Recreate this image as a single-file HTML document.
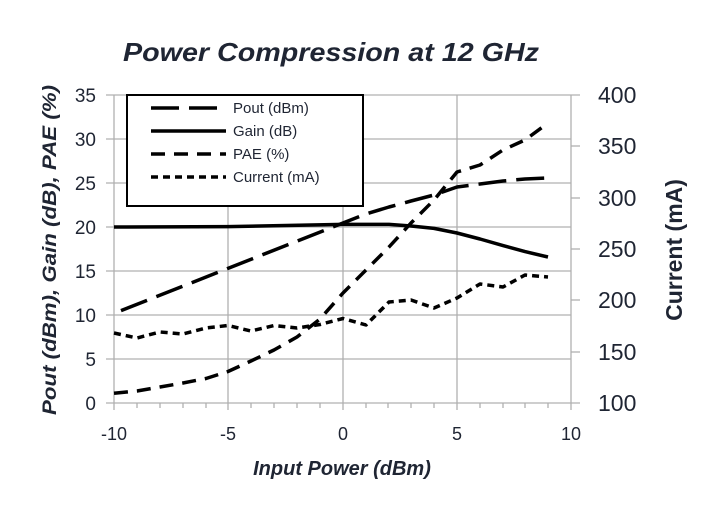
<!DOCTYPE html>
<html><head><meta charset="utf-8"><style>
html,body{margin:0;padding:0;background:#fff;}
svg{display:block;font-family:"Liberation Sans",sans-serif;}
</style></head><body>
<svg width="702" height="521" viewBox="0 0 702 521" xmlns="http://www.w3.org/2000/svg">
<rect width="702" height="521" fill="#fff"/>
<text x="331" y="61" text-anchor="middle" font-size="26" font-weight="bold" font-style="italic" fill="#1f2533" textLength="416" lengthAdjust="spacingAndGlyphs">Power Compression at 12 GHz</text>
<g stroke="#b0b0b0" stroke-width="1.3" fill="none">
<line x1="114" y1="95" x2="580" y2="95"/>
<line x1="114" y1="139" x2="571" y2="139"/>
<line x1="114" y1="183" x2="571" y2="183"/>
<line x1="114" y1="227" x2="571" y2="227"/>
<line x1="114" y1="271" x2="571" y2="271"/>
<line x1="114" y1="315" x2="571" y2="315"/>
<line x1="114" y1="359" x2="571" y2="359"/>
<line x1="106" y1="403" x2="580" y2="403"/>
<line x1="114" y1="95" x2="114" y2="410"/>
<line x1="228" y1="95" x2="228" y2="410"/>
<line x1="343" y1="95" x2="343" y2="410"/>
<line x1="457" y1="95" x2="457" y2="410"/>
<line x1="571" y1="95" x2="571" y2="410"/>
<line x1="571" y1="146" x2="580" y2="146"/>
<line x1="571" y1="198" x2="580" y2="198"/>
<line x1="571" y1="249" x2="580" y2="249"/>
<line x1="571" y1="300" x2="580" y2="300"/>
<line x1="571" y1="352" x2="580" y2="352"/>
<path d="M137 403v5M160 403v5M183 403v5M206 403v5M251 403v5M274 403v5M297 403v5M320 403v5M366 403v5M388 403v5M411 403v5M434 403v5M480 403v5M503 403v5M525 403v5M548 403v5"/>
<path d="M106 139h8M106 183h8M106 227h8M106 271h8M106 315h8M106 359h8M106 95h8"/>
</g>
<g font-size="19" fill="#1f2533" text-anchor="end">
<text x="96" y="102">35</text><text x="96" y="146">30</text><text x="96" y="190">25</text><text x="96" y="234">20</text><text x="96" y="278">15</text><text x="96" y="322">10</text><text x="96" y="366">5</text><text x="96" y="410">0</text>
</g>
<g font-size="18" fill="#1f2533" text-anchor="middle">
<text x="114" y="440">-10</text><text x="228" y="440">-5</text><text x="343" y="440">0</text><text x="457" y="440">5</text><text x="571" y="440">10</text>
</g>
<g font-size="23" fill="#1f2533">
<text x="598" y="103">400</text><text x="598" y="154">350</text><text x="598" y="206">300</text><text x="598" y="257">250</text><text x="598" y="308">200</text><text x="598" y="360">150</text><text x="598" y="411">100</text>
</g>
<text x="342" y="475" text-anchor="middle" font-size="20" font-weight="bold" font-style="italic" fill="#1f2533">Input Power (dBm)</text>
<text transform="translate(56,250) rotate(-90)" text-anchor="middle" font-size="19" font-weight="bold" font-style="italic" fill="#1f2533" textLength="330" lengthAdjust="spacingAndGlyphs">Pout (dBm), Gain (dB), PAE (%)</text>
<text transform="translate(682,250) rotate(-90)" text-anchor="middle" font-size="23" font-weight="bold" fill="#1f2533">Current (mA)</text>
<g fill="none" stroke="#000" stroke-width="3.5" stroke-linejoin="round">
<polyline stroke-dasharray="28,10" points="121,310.6 343,223 366,214 389,207 411,201 434,195 457,187 480,184 503,181 525,179 548,178"/>
<polyline points="114,227 228,226.6 343,224.4 389,224.4 411,226 434,228.4 457,233 480,239 503,245.6 525,251.6 548,257"/>
<polyline stroke-dasharray="14,9" points="114,393.3 137,391 160,387 183,383 206,378.5 228,371.5 251,361 274,350 297,337 320,319 343,293 366,270 389,247 411,223 434,200 457,172 480,165 503,150 525,140 548,123"/>
<polyline stroke-dasharray="7,5" points="114,333 137,338 160,332 183,334 206,328 228,325.5 251,331 274,325.5 297,328 320,324.5 343,318.5 366,325 389,302 411,300 434,308 457,298 480,284 503,287 525,275 548,277"/>
</g>
<rect x="127" y="95" width="236" height="111" fill="#fff" stroke="#000" stroke-width="2"/>
<g stroke="#000" stroke-width="3.5">
<line x1="151" y1="108" x2="226" y2="108" stroke-dasharray="28,10"/>
<line x1="151" y1="131" x2="226" y2="131"/>
<line x1="151" y1="154" x2="226" y2="154" stroke-dasharray="14,9"/>
<line x1="151" y1="177" x2="226" y2="177" stroke-dasharray="7,5"/>
</g>
<g font-size="15" fill="#1f2533">
<text x="233" y="113">Pout (dBm)</text><text x="233" y="136">Gain (dB)</text><text x="233" y="159">PAE (%)</text><text x="233" y="182">Current (mA)</text>
</g>
</svg>
</body></html>
